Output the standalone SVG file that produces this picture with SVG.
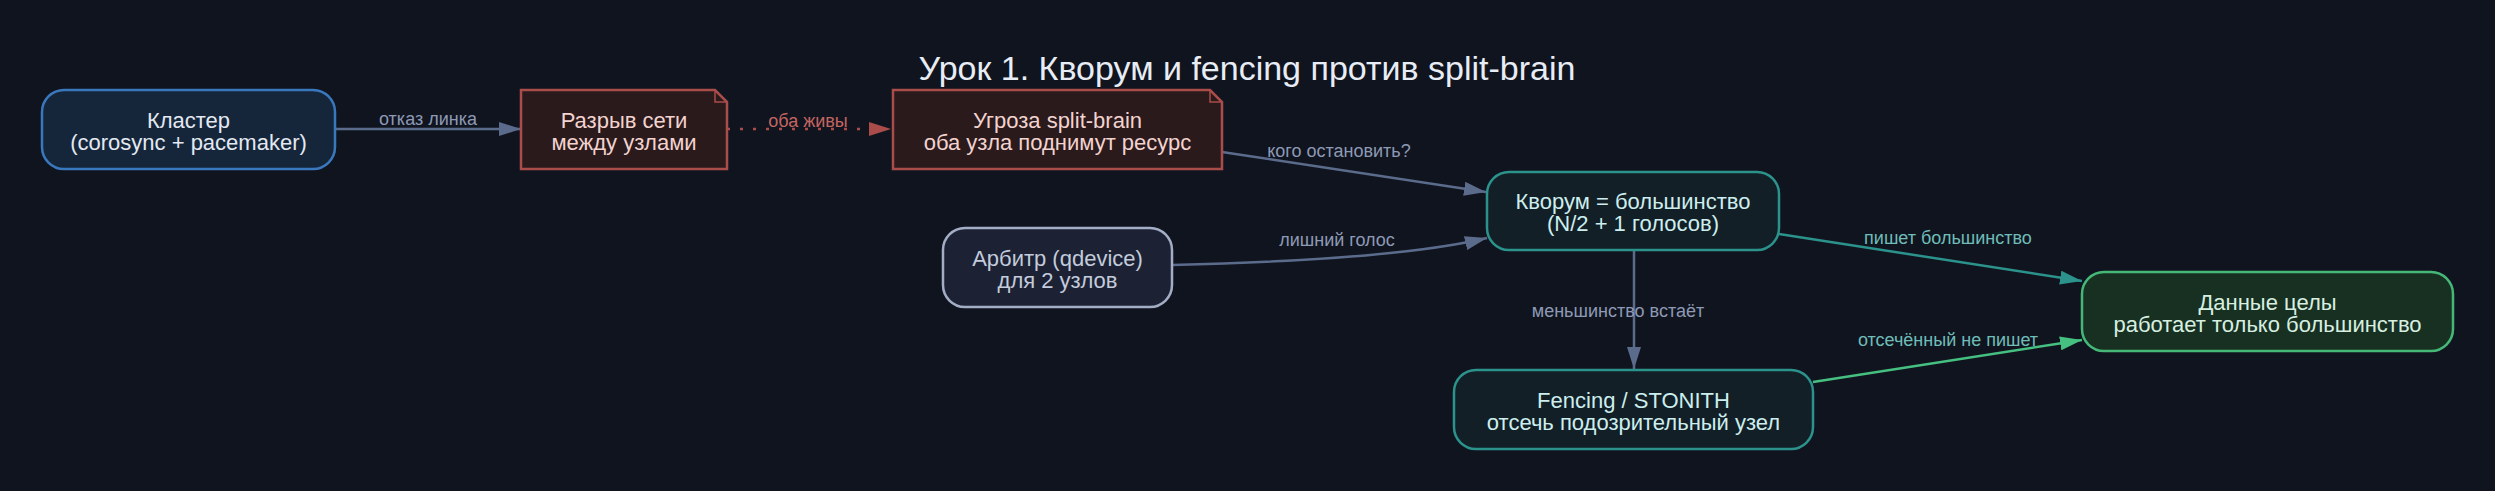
<svg xmlns="http://www.w3.org/2000/svg" width="2495" height="491" viewBox="0 0 2495 491">
<defs>
<style>
.t{font-family:"Liberation Sans",Arial,sans-serif;text-anchor:middle}
.n{font-size:22px}
.l{font-size:18px}
.e{fill:none;stroke-width:2.5}
</style>
<marker id="ag" markerUnits="userSpaceOnUse" markerWidth="22" markerHeight="14" refX="22" refY="7" orient="auto"><path d="M0,0L22,7L0,14z" fill="#5b6b8b"/></marker>
<marker id="ar" markerUnits="userSpaceOnUse" markerWidth="22" markerHeight="14" refX="22" refY="7" orient="auto"><path d="M0,0L22,7L0,14z" fill="#a94c4a"/></marker>
<marker id="at" markerUnits="userSpaceOnUse" markerWidth="22" markerHeight="14" refX="22" refY="7" orient="auto"><path d="M0,0L22,7L0,14z" fill="#2b928c"/></marker>
<marker id="an" markerUnits="userSpaceOnUse" markerWidth="22" markerHeight="14" refX="22" refY="7" orient="auto"><path d="M0,0L22,7L0,14z" fill="#45c080"/></marker>
</defs>
<rect width="2495" height="491" fill="#10141f"/>
<text class="t" x="1247" y="80" font-size="34" fill="#e8edf5">Урок 1. Кворум и fencing против split-brain</text>
<g id="connectors">
<path class="e" d="M335,129L521,129" stroke="#5b6b8b" marker-end="url(#ag)"/>
<text class="t l" x="428" y="125" fill="#8e9ab5">отказ линка</text>
<path class="e" d="M727,129L891,129" stroke="#a94c4a" stroke-dasharray="3 10" marker-end="url(#ar)"/>
<text class="t l" x="808" y="127" fill="#c46561">оба живы</text>
<path class="e" d="M1222,152L1486,192" stroke="#5b6b8b" marker-end="url(#ag)"/>
<text class="t l" x="1339" y="157" fill="#8e9ab5">кого остановить?</text>
<path class="e" d="M1172,265C1300,262 1420,254 1487,238" stroke="#5b6b8b" marker-end="url(#ag)"/>
<text class="t l" x="1337" y="246" fill="#8e9ab5">лишний голос</text>
<path class="e" d="M1634,250L1634,369" stroke="#5b6b8b" marker-end="url(#ag)"/>
<text class="t l" x="1618" y="317" fill="#8e9ab5">меньшинство встаёт</text>
<path class="e" d="M1779,234L2082,281" stroke="#2b928c" marker-end="url(#at)"/>
<text class="t l" x="1948" y="244" fill="#6fbdb8">пишет большинство</text>
<path class="e" d="M1813,382L2082,340" stroke="#45c080" marker-end="url(#an)"/>
<text class="t l" x="1948" y="346" fill="#6fbdb8">отсечённый не пишет</text>
</g>
<g id="cluster">
<rect x="42" y="90" width="293" height="79" rx="22" fill="#15263b" stroke="#3a78bd" stroke-width="2.5"/>
<text class="t n" x="188.5" y="128" fill="#e3e9f2">Кластер</text>
<text class="t n" x="188.5" y="150" fill="#e3e9f2">(corosync + pacemaker)</text>
</g>
<g id="split">
<path d="M521,90H715L727,102V169H521Z" fill="#2a1a1c" stroke="#a94c4a" stroke-width="2.5"/>
<path d="M715,90V102H727" fill="none" stroke="#a94c4a" stroke-width="1.5"/>
<text class="t n" x="624" y="128" fill="#f3d3cf">Разрыв сети</text>
<text class="t n" x="624" y="150" fill="#f3d3cf">между узлами</text>
</g>
<g id="threat">
<path d="M893,90H1210L1222,102V169H893Z" fill="#2a1a1c" stroke="#a94c4a" stroke-width="2.5"/>
<path d="M1210,90V102H1222" fill="none" stroke="#a94c4a" stroke-width="1.5"/>
<text class="t n" x="1057.5" y="128" fill="#f3d3cf">Угроза split-brain</text>
<text class="t n" x="1057.5" y="150" fill="#f3d3cf">оба узла поднимут ресурс</text>
</g>
<g id="quorum">
<rect x="1487" y="172" width="292" height="78" rx="22" fill="#121f27" stroke="#2b928c" stroke-width="2.5"/>
<text class="t n" x="1633" y="209" fill="#cdeeee">Кворум = большинство</text>
<text class="t n" x="1633" y="231" fill="#cdeeee">(N/2 + 1 голосов)</text>
</g>
<g id="arbiter">
<rect x="943" y="228" width="229" height="79" rx="22" fill="#1c2233" stroke="#a3aec6" stroke-width="2.5"/>
<text class="t n" x="1057.5" y="266" fill="#c3cbdc">Арбитр (qdevice)</text>
<text class="t n" x="1057.5" y="288" fill="#c3cbdc">для 2 узлов</text>
</g>
<g id="fencing">
<rect x="1454" y="370" width="359" height="79" rx="22" fill="#121f27" stroke="#2b928c" stroke-width="2.5"/>
<text class="t n" x="1633.5" y="408" fill="#cdeeee">Fencing / STONITH</text>
<text class="t n" x="1633.5" y="430" fill="#cdeeee">отсечь подозрительный узел</text>
</g>
<g id="data">
<rect x="2082" y="272" width="371" height="79" rx="22" fill="#183021" stroke="#45b878" stroke-width="2.5"/>
<text class="t n" x="2267.5" y="310" fill="#d6efe0">Данные целы</text>
<text class="t n" x="2267.5" y="332" fill="#d6efe0">работает только большинство</text>
</g>
</svg>
